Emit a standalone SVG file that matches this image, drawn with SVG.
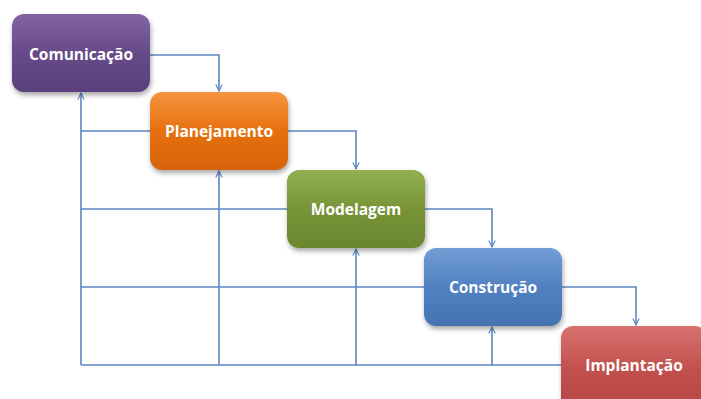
<svg xmlns="http://www.w3.org/2000/svg" width="701" height="399" viewBox="0 0 701 399">
<style>
.lbl{font-family:"Open Sans","Liberation Sans",sans-serif;font-weight:bold;font-size:15.5px;fill:#fff;text-anchor:middle;dominant-baseline:central}
.ln{fill:none;stroke:#5b86c0;stroke-width:1.6}
.box{filter:url(#sh)}
</style>
<defs>
<filter id="sh" x="-10%" y="-10%" width="130%" height="140%">
<feDropShadow dx="1" dy="3" stdDeviation="2.5" flood-color="#000" flood-opacity="0.35"/>
</filter>
<marker id="ar" viewBox="0 0 10 10" refX="9" refY="5" markerWidth="8" markerHeight="8" orient="auto" markerUnits="userSpaceOnUse">
<path d="M1,1 L9,5 L1,9" fill="none" stroke="#5b86c0" stroke-width="1.4"/>
</marker>
<linearGradient id="gP" x1="0" y1="0" x2="0" y2="1"><stop offset="0" stop-color="#8264a4"/><stop offset="0.5" stop-color="#674a89"/><stop offset="1" stop-color="#5a3f7d"/></linearGradient>
<linearGradient id="gO" x1="0" y1="0" x2="0" y2="1"><stop offset="0" stop-color="#f59441"/><stop offset="0.5" stop-color="#e6700e"/><stop offset="1" stop-color="#d76407"/></linearGradient>
<linearGradient id="gG" x1="0" y1="0" x2="0" y2="1"><stop offset="0" stop-color="#92b050"/><stop offset="0.5" stop-color="#789438"/><stop offset="1" stop-color="#6a862e"/></linearGradient>
<linearGradient id="gB" x1="0" y1="0" x2="0" y2="1"><stop offset="0" stop-color="#729dd5"/><stop offset="0.5" stop-color="#5181c1"/><stop offset="1" stop-color="#4573b2"/></linearGradient>
<linearGradient id="gR" x1="0" y1="0" x2="0" y2="1"><stop offset="0" stop-color="#d77370"/><stop offset="0.5" stop-color="#c2504d"/><stop offset="1" stop-color="#b64643"/></linearGradient>
</defs>
<g id="connectors">
<path class="ln" d="M150,55 H219 V91" marker-end="url(#ar)"/>
<path class="ln" d="M288,131 H356 V169" marker-end="url(#ar)"/>
<path class="ln" d="M425,209 H492 V247" marker-end="url(#ar)"/>
<path class="ln" d="M562,287 H636 V325" marker-end="url(#ar)"/>
<path class="ln" d="M81,365 V93" marker-end="url(#ar)"/>
<path class="ln" d="M219,365 V171" marker-end="url(#ar)"/>
<path class="ln" d="M356,365 V249" marker-end="url(#ar)"/>
<path class="ln" d="M492,365 V327" marker-end="url(#ar)"/>
<path class="ln" d="M81,131 H150"/>
<path class="ln" d="M81,209 H287"/>
<path class="ln" d="M81,287 H424"/>
<path class="ln" d="M81,365 H561"/>
</g>
<g id="comunicacao">
<rect class="box" x="12" y="14" width="138" height="78" rx="12" fill="url(#gP)"/>
<text class="lbl" x="81" y="54">Comunicação</text>
</g>
<g id="planejamento">
<rect class="box" x="150" y="92" width="138" height="78" rx="12" fill="url(#gO)"/>
<text class="lbl" x="219" y="131">Planejamento</text>
</g>
<g id="modelagem">
<rect class="box" x="287" y="170" width="138" height="78" rx="12" fill="url(#gG)"/>
<text class="lbl" x="356" y="209">Modelagem</text>
</g>
<g id="construcao">
<rect class="box" x="424" y="248" width="138" height="78" rx="12" fill="url(#gB)"/>
<text class="lbl" x="493" y="287">Construção</text>
</g>
<g id="implantacao">
<rect class="box" x="561" y="326" width="146" height="86" rx="12" fill="url(#gR)"/>
<text class="lbl" x="634" y="365">Implantação</text>
</g>
</svg>
